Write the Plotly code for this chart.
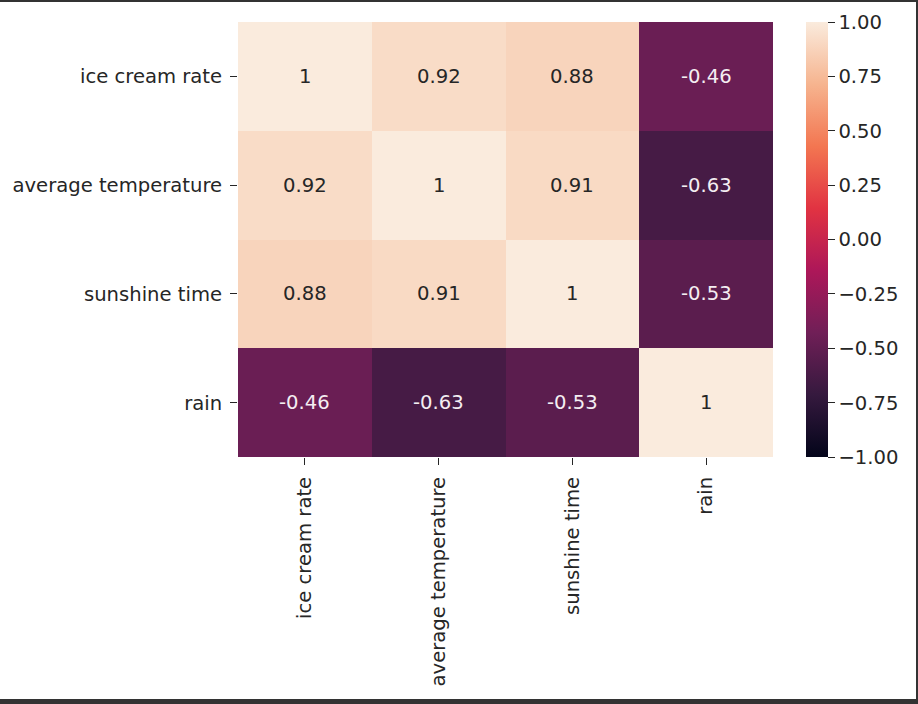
import plotly.graph_objects as go

labels = ["ice cream rate", "average temperature", "sunshine time", "rain"]
corr = [
    [1.00, 0.92, 0.88, -0.46],
    [0.92, 1.00, 0.91, -0.63],
    [0.88, 0.91, 1.00, -0.53],
    [-0.46, -0.63, -0.53, 1.00],
]
cbar_ticks = [1.0, 0.75, 0.5, 0.25, 0.0, -0.25, -0.5, -0.75, -1.0]

rocket = [
    [0.0, "#03051a"],
    [1/7, "#35193e"],
    [2/7, "#701f57"],
    [3/7, "#ad1759"],
    [4/7, "#e13342"],
    [5/7, "#f37651"],
    [6/7, "#f6b48f"],
    [1.0, "#faebdd"],
]

W, H = 918, 704
L, R, T, B = 238, 918 - 773, 22, 704 - 457
pw, ph = W - L - R, H - T - B
FONT = "DejaVu Sans"
FS = 19.6
TXT = "#262626"

fig = go.Figure()
fig.add_trace(go.Heatmap(
    z=corr, x=labels, y=labels, zmin=-1, zmax=1,
    colorscale=rocket, xgap=0, ygap=0,
    colorbar=dict(
        x=(806 - L) / pw, xanchor="left", xpad=0,
        y=0.5, yanchor="middle", len=1, lenmode="fraction", ypad=0,
        thickness=22, outlinewidth=0,
        tickmode="array", tickvals=cbar_ticks,
        ticktext=[("\u2212" if v < 0 else "") + f"{abs(v):.2f}" for v in cbar_ticks],
        ticks="outside", ticklen=7, tickwidth=1.2, tickcolor=TXT,
        tickfont=dict(family=FONT, size=FS, color=TXT),
    ),
    hoverinfo="skip",
))

for i, row in enumerate(corr):
    for j, v in enumerate(row):
        color = TXT if v > 0.2 else "#f4eef2"
        fig.add_annotation(
            x=labels[j], y=labels[i], text=f"{v:.2g}", showarrow=False,
            font=dict(family=FONT, size=FS, color=color),
        )

# dark frame of the screenshot
frame = "#333333"
def px_x(p):
    return (p - L) / pw
def px_y(p):
    return (H - B - p) / ph
fig.add_shape(type="rect", xref="paper", yref="paper",
              x0=px_x(-5), x1=px_x(W + 5), y0=px_y(2), y1=px_y(0),
              fillcolor=frame, line_width=0, layer="above")
fig.add_shape(type="rect", xref="paper", yref="paper",
              x0=px_x(916), x1=px_x(W + 5), y0=px_y(H + 5), y1=px_y(-5),
              fillcolor=frame, line_width=0, layer="above")
fig.add_shape(type="rect", xref="paper", yref="paper",
              x0=px_x(-5), x1=px_x(W + 5), y0=px_y(H + 5), y1=px_y(699),
              fillcolor=frame, line_width=0, layer="above")

fig.update_layout(
    width=W, height=H,
    margin=dict(l=L, r=R, t=T, b=B, pad=0),
    paper_bgcolor="white", plot_bgcolor="white",
    font=dict(family=FONT, size=FS, color=TXT),
    xaxis=dict(
        type="category", tickangle=-90, ticks="outside", ticklen=7,
        tickwidth=1.2, tickcolor=TXT, showgrid=False, zeroline=False,
        showline=False, tickfont=dict(family=FONT, size=FS, color=TXT),
        ticklabelstandoff=4,
    ),
    yaxis=dict(
        type="category", autorange="reversed", ticks="outside", ticklen=7,
        tickwidth=1.2, tickcolor=TXT, showgrid=False, zeroline=False,
        showline=False, tickfont=dict(family=FONT, size=FS, color=TXT),
        ticklabelstandoff=4,
    ),
)

fig.write_html(
    "out.html",
    config={"displayModeBar": False},
    post_script="document.body.style.margin='0';document.body.style.overflow='hidden';",
)
